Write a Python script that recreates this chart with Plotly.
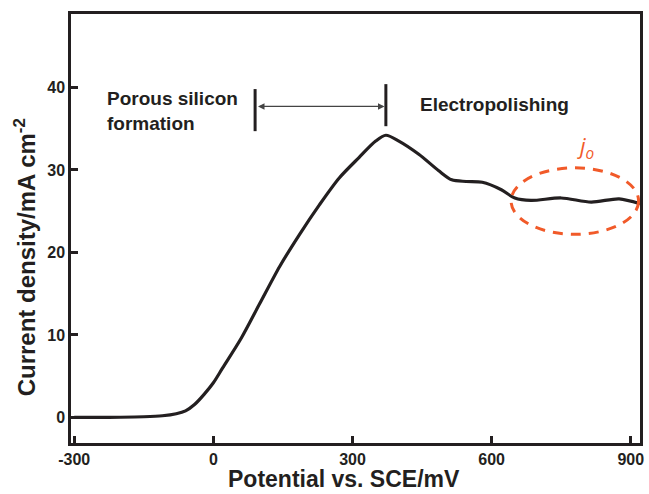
import plotly.graph_objects as go

# Data (potential in mV vs SCE, current density in mA cm^-2)
potential = [-300, -250, -200, -150, -110, -80, -60, -40, -20, 0, 20, 60, 100, 143, 186, 229,
             271, 314, 350, 372, 400, 443, 486, 514, 545, 580, 621, 650, 685, 750,
             815, 875, 920]
current = [0, 0, 0.02, 0.08, 0.2, 0.45, 0.8, 1.6, 2.8, 4.2, 6.0, 9.6, 13.8, 18.3, 22.2, 25.8,
           29.0, 31.5, 33.5, 34.2, 33.5, 31.9, 29.9, 28.8, 28.6, 28.5, 27.6, 26.6, 26.3, 26.6,
           26.1, 26.5, 25.9]

x_ticks = [-300, 0, 300, 600, 900]
y_ticks = [0, 10, 20, 30, 40]

region_boundaries = [90, 372]   # mV: start/end markers of porous silicon region
FONT = "Arial, Liberation Sans, sans-serif"
BLACK = "#231f20"
ORANGE = "#f15a29"

fig = go.Figure()
fig.add_trace(go.Scatter(x=potential, y=current, mode="lines",
                         line=dict(color=BLACK, width=3.2, shape="spline", smoothing=0.8),
                         hoverinfo="skip", showlegend=False))

axis_common = dict(showline=True, linecolor=BLACK, linewidth=2.5, mirror=True,
                   ticks="inside", tickcolor=BLACK, tickwidth=2.5, ticklen=7,
                   showgrid=False, zeroline=False,
                   tickfont=dict(family=FONT, size=16, color=BLACK, weight="bold"))

fig.update_xaxes(range=[-307, 920], tickvals=x_ticks, ticktext=[str(v) for v in x_ticks],
                 ticklabelstandoff=0, **axis_common)
fig.update_yaxes(range=[-3.1, 48.9], tickvals=y_ticks, ticktext=[str(v) for v in y_ticks],
                 **axis_common)

shapes = [
    dict(type="line", xref="x", yref="y", x0=region_boundaries[0], x1=region_boundaries[0],
         y0=34.7, y1=39.8, line=dict(color=BLACK, width=3)),
    dict(type="line", xref="x", yref="y", x0=region_boundaries[1], x1=region_boundaries[1],
         y0=35.3, y1=40.4, line=dict(color=BLACK, width=3)),
    dict(type="circle", xref="x", yref="y", x0=642, x1=917, y0=22.2, y1=30.25,
         line=dict(color=ORANGE, width=3, dash="10px,8px")),
]

annotations = [
    dict(x=region_boundaries[1] - 3, y=37.7, ax=region_boundaries[0] + 3, ay=37.7,
         xref="x", yref="y", axref="x", ayref="y", text="", showarrow=True,
         arrowside="end+start", arrowhead=2, arrowsize=1, arrowwidth=1.3, arrowcolor="#444"),
    dict(x=-234, y=37.1, xref="x", yref="y", xanchor="left", yanchor="middle",
         text="Porous silicon<br>formation", showarrow=False, align="left",
         font=dict(family=FONT, size=19, color=BLACK, weight="bold")),
    dict(x=441, y=37.9, xref="x", yref="y", xanchor="left", yanchor="middle",
         text="Electropolishing", showarrow=False,
         font=dict(family=FONT, size=19, color=BLACK, weight="bold")),
    dict(x=803, y=32.8, xref="x", yref="y", xanchor="center", yanchor="middle",
         text="<i>j<sub>o</sub></i>", showarrow=False,
         font=dict(family="Open Sans, sans-serif", size=22, color=ORANGE)),
    # x-axis title
    dict(x=(346 - 71) / 573, y=(443 - 494) / 429, xref="paper", yref="paper",
         xanchor="center", yanchor="bottom", showarrow=False,
         text="Potential vs. SCE/mV",
         font=dict(family=FONT, size=23, color=BLACK, weight="bold")),
    # y-axis title
    dict(x=(25 - 71) / 573, y=(443 - 257) / 429, xref="paper", yref="paper",
         xanchor="center", yanchor="middle", textangle=-90, showarrow=False,
         text="Current density/mA cm<sup>-2</sup>",
         font=dict(family=FONT, size=24, color=BLACK, weight="bold")),
]

fig.update_layout(width=649, height=494, margin=dict(l=71, r=5, t=14, b=51),
                  paper_bgcolor="white", plot_bgcolor="white",
                  shapes=shapes, annotations=annotations)

fig.write_html("out.html", post_script="document.body.style.margin='0';",
               config={"displayModeBar": False})
